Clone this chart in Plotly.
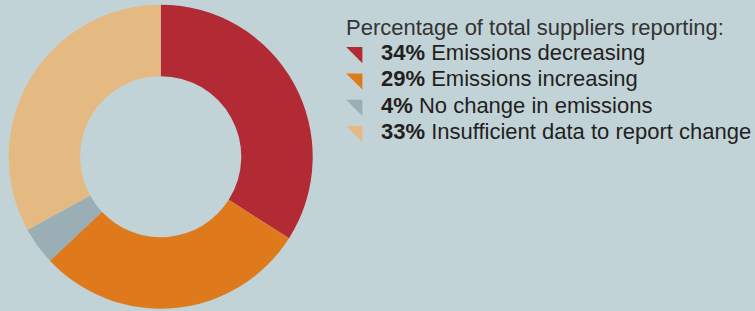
import plotly.graph_objects as go

categories = ["Emissions decreasing", "Emissions increasing", "No change in emissions",
              "Insufficient data to report change"]
values = [34, 29, 4, 33]
colors = ["#B22A33", "#DF7A1C", "#9AAEB5", "#E5B982"]
legend_title = "Percentage of total suppliers reporting:"

W, H = 755, 311
BG = "#C2D3D8"

fig = go.Figure()
fig.add_trace(go.Pie(
    values=values, labels=categories, sort=False, direction="clockwise", rotation=0,
    hole=0.53, marker=dict(colors=colors, line=dict(width=0)),
    textinfo="none", hoverinfo="label+percent", showlegend=False,
    domain=dict(x=[8.7 / W, 312.7 / W], y=[2.3 / H, 306.3 / H]),
))

# legend rows (layout positions in pixels from top-left)
title_y = 28
row_y0, row_dy = 52.5, 26.3
marker_x = 357
text_x = 379

ys = [row_y0 + i * row_dy for i in range(len(categories))]
fig.add_trace(go.Scatter(
    x=[marker_x / W] * len(categories), y=[1 - y / H for y in ys],
    mode="markers", marker=dict(symbol="triangle-ne", size=18, color=colors, line=dict(width=0)),
    xaxis="x", yaxis="y", showlegend=False, hoverinfo="skip",
))

FONT = "Liberation Sans, Arial, Helvetica, sans-serif"
annotations = [dict(
    x=344 / W, y=1 - title_y / H, xref="paper", yref="paper", xanchor="left", yanchor="middle",
    text=legend_title, showarrow=False,
    font=dict(family=FONT, size=22, color="#333333"),
)]
for v, c, y in zip(values, categories, ys):
    annotations.append(dict(
        x=text_x / W, y=1 - y / H, xref="paper", yref="paper", xanchor="left", yanchor="middle",
        text=f"<b>{v}%</b> {c}", showarrow=False,
        font=dict(family=FONT, size=22, color="#231F20"),
    ))

fig.update_layout(
    width=W, height=H, margin=dict(l=0, r=0, t=0, b=0),
    paper_bgcolor=BG, plot_bgcolor="rgba(0,0,0,0)",
    xaxis=dict(range=[0, 1], domain=[0, 1], visible=False, fixedrange=True),
    yaxis=dict(range=[0, 1], domain=[0, 1], visible=False, fixedrange=True),
    annotations=annotations,
)

fig.write_html(
    "out.html",
    config={"displayModeBar": False},
    post_script="document.body.style.margin='0';document.body.style.background='" + BG + "';",
)
